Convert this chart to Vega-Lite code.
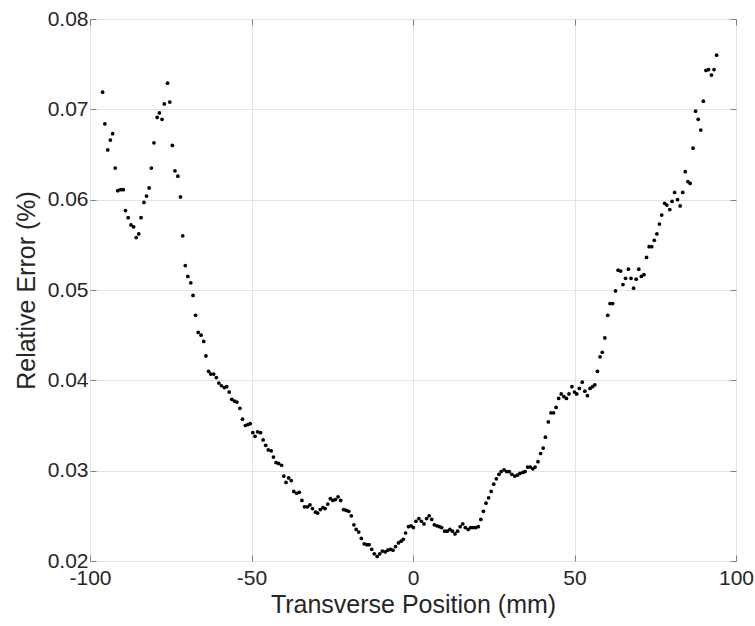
{
  "$schema": "https://vega.github.io/schema/vega-lite/v6.json",
  "width": 646,
  "height": 542,
  "autosize": "none",
  "padding": {"left": 90, "top": 19, "right": 19, "bottom": 65},
  "background": "white",
  "config": {
    "view": {"stroke": "#808080", "strokeWidth": 1},
    "font": "Liberation Sans",
    "axis": {
      "labelFont": "Liberation Sans",
      "titleFont": "Liberation Sans",
      "labelColor": "#262626",
      "titleColor": "#262626",
      "labelFontSize": 21,
      "titleFontSize": 25,
      "titleFontWeight": "normal",
      "labelFlush": false,
      "labelOverlap": false,
      "domain": false,
      "tickColor": "#808080",
      "tickSize": -6,
      "gridColor": "#e3e3e3",
      "gridWidth": 1
    }
  },
  "data": {"values": [
    {"x": -96.1, "y": 0.0719}, {"x": -95.4, "y": 0.0684}, {"x": -94.5, "y": 0.0655}, {"x": -93.7, "y": 0.0666},
    {"x": -93.0, "y": 0.0673}, {"x": -92.2, "y": 0.0635}, {"x": -91.4, "y": 0.0610}, {"x": -90.5, "y": 0.0611},
    {"x": -89.7, "y": 0.0611}, {"x": -89.0, "y": 0.0588}, {"x": -88.2, "y": 0.0580}, {"x": -87.3, "y": 0.0572},
    {"x": -86.5, "y": 0.0570}, {"x": -85.7, "y": 0.0558}, {"x": -84.9, "y": 0.0562}, {"x": -84.2, "y": 0.0580},
    {"x": -83.3, "y": 0.0597}, {"x": -82.5, "y": 0.0604}, {"x": -81.7, "y": 0.0613}, {"x": -81.0, "y": 0.0635},
    {"x": -80.2, "y": 0.0663}, {"x": -79.2, "y": 0.0691}, {"x": -78.5, "y": 0.0696}, {"x": -77.7, "y": 0.0689},
    {"x": -77.0, "y": 0.0706}, {"x": -76.0, "y": 0.0729}, {"x": -75.3, "y": 0.0708}, {"x": -74.5, "y": 0.0660},
    {"x": -73.7, "y": 0.0632}, {"x": -72.8, "y": 0.0626}, {"x": -72.0, "y": 0.0603}, {"x": -71.3, "y": 0.0560},
    {"x": -70.5, "y": 0.0527}, {"x": -69.7, "y": 0.0515}, {"x": -68.8, "y": 0.0508}, {"x": -68.1, "y": 0.0494},
    {"x": -67.3, "y": 0.0472}, {"x": -66.5, "y": 0.0453}, {"x": -65.6, "y": 0.0450}, {"x": -64.8, "y": 0.0443},
    {"x": -64.1, "y": 0.0427}, {"x": -63.3, "y": 0.0410}, {"x": -62.6, "y": 0.0407}, {"x": -61.7, "y": 0.0407},
    {"x": -60.9, "y": 0.0403}, {"x": -60.1, "y": 0.0397}, {"x": -59.3, "y": 0.0394}, {"x": -58.4, "y": 0.0392},
    {"x": -57.7, "y": 0.0393}, {"x": -56.9, "y": 0.0387}, {"x": -56.1, "y": 0.0379}, {"x": -55.3, "y": 0.0377},
    {"x": -54.5, "y": 0.0376}, {"x": -53.6, "y": 0.0369}, {"x": -52.8, "y": 0.0357}, {"x": -51.9, "y": 0.0350},
    {"x": -51.1, "y": 0.0351}, {"x": -50.4, "y": 0.0352}, {"x": -49.6, "y": 0.0342}, {"x": -48.9, "y": 0.0338},
    {"x": -48.1, "y": 0.0343}, {"x": -47.2, "y": 0.0342}, {"x": -46.4, "y": 0.0334}, {"x": -45.6, "y": 0.0328},
    {"x": -44.8, "y": 0.0323}, {"x": -43.9, "y": 0.0322}, {"x": -43.2, "y": 0.0315}, {"x": -42.4, "y": 0.0309},
    {"x": -41.6, "y": 0.0308}, {"x": -40.7, "y": 0.0306}, {"x": -40.0, "y": 0.0294}, {"x": -39.3, "y": 0.0287},
    {"x": -38.5, "y": 0.0292}, {"x": -37.7, "y": 0.0289}, {"x": -36.9, "y": 0.0277}, {"x": -36.0, "y": 0.0275},
    {"x": -35.2, "y": 0.0276}, {"x": -34.4, "y": 0.0267}, {"x": -33.6, "y": 0.0260}, {"x": -32.7, "y": 0.0260},
    {"x": -31.9, "y": 0.0262}, {"x": -31.1, "y": 0.0258}, {"x": -30.2, "y": 0.0254}, {"x": -29.5, "y": 0.0253},
    {"x": -28.7, "y": 0.0257}, {"x": -27.9, "y": 0.0259}, {"x": -27.2, "y": 0.0258}, {"x": -26.4, "y": 0.0263},
    {"x": -25.6, "y": 0.0269}, {"x": -24.8, "y": 0.0267}, {"x": -24.0, "y": 0.0268}, {"x": -23.2, "y": 0.0271},
    {"x": -22.4, "y": 0.0267}, {"x": -21.5, "y": 0.0257}, {"x": -20.7, "y": 0.0256}, {"x": -19.9, "y": 0.0255},
    {"x": -19.1, "y": 0.0250}, {"x": -18.3, "y": 0.0240}, {"x": -17.6, "y": 0.0235}, {"x": -16.8, "y": 0.0232},
    {"x": -16.0, "y": 0.0225}, {"x": -15.1, "y": 0.0219}, {"x": -14.3, "y": 0.0218}, {"x": -13.6, "y": 0.0218},
    {"x": -12.8, "y": 0.0213}, {"x": -12.0, "y": 0.0208}, {"x": -11.1, "y": 0.0205}, {"x": -10.3, "y": 0.0208},
    {"x": -9.5, "y": 0.0211}, {"x": -8.6, "y": 0.0210}, {"x": -7.8, "y": 0.0212}, {"x": -7.0, "y": 0.0213},
    {"x": -6.2, "y": 0.0212}, {"x": -5.4, "y": 0.0216}, {"x": -4.5, "y": 0.0220}, {"x": -3.7, "y": 0.0222},
    {"x": -3.0, "y": 0.0224}, {"x": -2.3, "y": 0.0231}, {"x": -1.4, "y": 0.0238}, {"x": -0.6, "y": 0.0239},
    {"x": 0.1, "y": 0.0237}, {"x": 0.9, "y": 0.0244}, {"x": 1.8, "y": 0.0247}, {"x": 2.6, "y": 0.0244},
    {"x": 3.4, "y": 0.0241}, {"x": 4.2, "y": 0.0247}, {"x": 5.0, "y": 0.0250}, {"x": 5.8, "y": 0.0246},
    {"x": 6.6, "y": 0.0240}, {"x": 7.4, "y": 0.0239}, {"x": 8.2, "y": 0.0238}, {"x": 8.9, "y": 0.0237},
    {"x": 9.8, "y": 0.0233}, {"x": 10.6, "y": 0.0233}, {"x": 11.4, "y": 0.0235}, {"x": 12.2, "y": 0.0233},
    {"x": 13.0, "y": 0.0230}, {"x": 13.8, "y": 0.0233}, {"x": 14.6, "y": 0.0238}, {"x": 15.4, "y": 0.0241},
    {"x": 16.2, "y": 0.0237}, {"x": 17.1, "y": 0.0235}, {"x": 17.9, "y": 0.0237}, {"x": 18.7, "y": 0.0237},
    {"x": 19.4, "y": 0.0237}, {"x": 20.2, "y": 0.0238}, {"x": 21.0, "y": 0.0246}, {"x": 21.8, "y": 0.0255},
    {"x": 22.6, "y": 0.0264}, {"x": 23.4, "y": 0.0270}, {"x": 24.2, "y": 0.0277}, {"x": 25.0, "y": 0.0285},
    {"x": 25.8, "y": 0.0291}, {"x": 26.6, "y": 0.0296}, {"x": 27.3, "y": 0.0299}, {"x": 28.2, "y": 0.0301},
    {"x": 29.0, "y": 0.0299}, {"x": 29.8, "y": 0.0299}, {"x": 30.6, "y": 0.0296}, {"x": 31.5, "y": 0.0294},
    {"x": 32.3, "y": 0.0295}, {"x": 33.1, "y": 0.0297}, {"x": 34.0, "y": 0.0298}, {"x": 34.7, "y": 0.0299},
    {"x": 35.5, "y": 0.0304}, {"x": 36.3, "y": 0.0304}, {"x": 37.1, "y": 0.0302}, {"x": 37.8, "y": 0.0304},
    {"x": 38.7, "y": 0.0310}, {"x": 39.5, "y": 0.0319}, {"x": 40.3, "y": 0.0325}, {"x": 41.0, "y": 0.0337},
    {"x": 41.9, "y": 0.0354}, {"x": 42.7, "y": 0.0364}, {"x": 43.5, "y": 0.0364}, {"x": 44.3, "y": 0.0370},
    {"x": 45.1, "y": 0.0380}, {"x": 45.9, "y": 0.0385}, {"x": 46.7, "y": 0.0382}, {"x": 47.5, "y": 0.0380},
    {"x": 48.3, "y": 0.0385}, {"x": 49.2, "y": 0.0393}, {"x": 50.0, "y": 0.0387}, {"x": 50.7, "y": 0.0385},
    {"x": 51.5, "y": 0.0391}, {"x": 52.4, "y": 0.0398}, {"x": 53.2, "y": 0.0388}, {"x": 54.0, "y": 0.0383},
    {"x": 54.8, "y": 0.0391}, {"x": 55.6, "y": 0.0393}, {"x": 56.3, "y": 0.0395}, {"x": 57.1, "y": 0.0410},
    {"x": 57.9, "y": 0.0426}, {"x": 58.6, "y": 0.0431}, {"x": 59.4, "y": 0.0447}, {"x": 60.3, "y": 0.0472},
    {"x": 61.0, "y": 0.0485}, {"x": 61.8, "y": 0.0485}, {"x": 62.7, "y": 0.0499}, {"x": 63.5, "y": 0.0522},
    {"x": 64.3, "y": 0.0521}, {"x": 65.0, "y": 0.0506}, {"x": 65.8, "y": 0.0513}, {"x": 66.7, "y": 0.0523},
    {"x": 67.5, "y": 0.0513}, {"x": 68.3, "y": 0.0502}, {"x": 69.1, "y": 0.0512}, {"x": 69.9, "y": 0.0523},
    {"x": 70.7, "y": 0.0515}, {"x": 71.5, "y": 0.0517}, {"x": 72.3, "y": 0.0536}, {"x": 73.1, "y": 0.0548},
    {"x": 73.9, "y": 0.0548}, {"x": 74.7, "y": 0.0555}, {"x": 75.5, "y": 0.0562}, {"x": 76.3, "y": 0.0573},
    {"x": 77.0, "y": 0.0583}, {"x": 77.9, "y": 0.0596}, {"x": 78.6, "y": 0.0594}, {"x": 79.5, "y": 0.0589},
    {"x": 80.2, "y": 0.0598}, {"x": 81.0, "y": 0.0608}, {"x": 81.9, "y": 0.0600}, {"x": 82.7, "y": 0.0593},
    {"x": 83.5, "y": 0.0608}, {"x": 84.3, "y": 0.0631}, {"x": 85.1, "y": 0.0620}, {"x": 85.8, "y": 0.0618},
    {"x": 86.7, "y": 0.0657}, {"x": 87.5, "y": 0.0698}, {"x": 88.3, "y": 0.0689}, {"x": 89.1, "y": 0.0677},
    {"x": 89.9, "y": 0.0709}, {"x": 90.7, "y": 0.0743}, {"x": 91.5, "y": 0.0744}, {"x": 92.4, "y": 0.0738},
    {"x": 93.2, "y": 0.0744}, {"x": 94.0, "y": 0.0760}
  ]},
  "layer": [
    {
      "mark": {"type": "point", "filled": true, "color": "black", "opacity": 1, "size": 14},
      "encoding": {
        "x": {"field": "x", "type": "quantitative",
          "scale": {"domain": [-100, 100], "nice": false},
          "axis": {"values": [-100, -50, 0, 50, 100], "labelExpr": "replace(datum.label, '\u2212', '-')", "title": "Transverse Position (mm)", "labelPadding": 12, "titlePadding": 4, "grid": true}},
        "y": {"field": "y", "type": "quantitative",
          "scale": {"domain": [0.02, 0.08], "nice": false, "zero": false},
          "axis": {"values": [0.02, 0.03, 0.04, 0.05, 0.06, 0.07, 0.08], "format": ".2f", "title": "Relative Error (%)", "labelPadding": 8, "titlePadding": 8, "grid": true}}
      }
    },
    {
      "mark": {"type": "point", "filled": true, "opacity": 0, "size": 1},
      "encoding": {
        "x": {"field": "x", "type": "quantitative",
          "scale": {"domain": [-100, 100], "nice": false},
          "axis": {"orient": "top", "values": [-100, -50, 0, 50, 100], "labels": false, "title": null, "grid": false}},
        "y": {"field": "y", "type": "quantitative",
          "scale": {"domain": [0.02, 0.08], "nice": false, "zero": false},
          "axis": {"orient": "right", "values": [0.02, 0.03, 0.04, 0.05, 0.06, 0.07, 0.08], "labels": false, "title": null, "grid": false}}
      }
    }
  ],
  "resolve": {"axis": {"x": "independent", "y": "independent"}}
}
